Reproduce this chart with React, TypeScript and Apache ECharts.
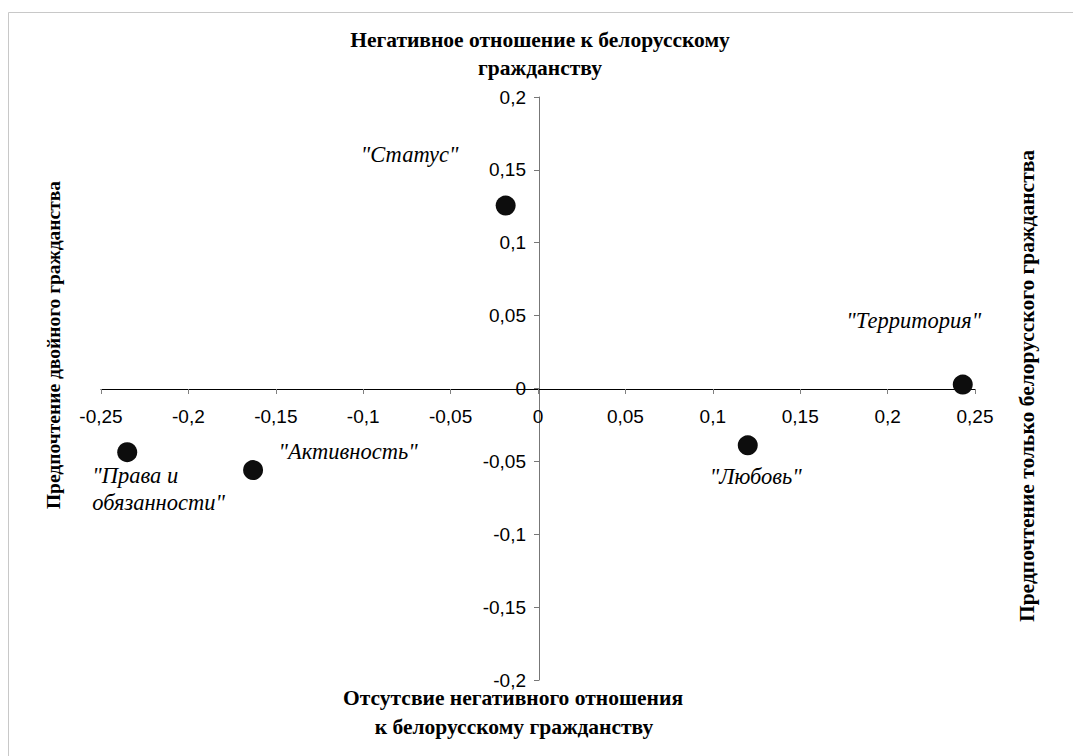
import React, { useEffect, useRef } from "react";
import * as echarts from "echarts";

const pointNames = ['"Статус"', '"Территория"', '"Любовь"', '"Активность"', '"Права и\nобязанности"'];
const xValues = [-0.0185, 0.243, 0.12, -0.163, -0.235];
const yValues = [0.1255, 0.0027, -0.039, -0.056, -0.0437];

const topTitle = ["Негативное отношение к белорусскому", "гражданству"];
const bottomTitle = ["Отсутсвие негативного отношения", "к белорусскому гражданству"];
const leftTitle = "Предпочтение двойного гражданства";
const rightTitle = "Предпочтение только белорусского гражданства";

// label placement (style only)
const labelOffsets: [number, number][] = [
  [-96, -51],
  [-49, -64],
  [8, 31],
  [95, -19],
  [-35, 37],
];
const labelAligns = ["center", "center", "center", "center", "left"];

const fmt = (v: number) => String(Math.round(v * 100) / 100).replace(".", ",");

const SERIF = "'Liberation Serif', 'DejaVu Serif', serif";
const SANS = "'Liberation Sans', Arial, sans-serif";

export default function App() {
  const ref = useRef<HTMLDivElement>(null);
  useEffect(() => {
    if (!ref.current) return;
    const chart = echarts.init(ref.current, undefined, { renderer: "svg" });
    const titleFont = `bold 21.5px ${SERIF}`;
    const data = xValues.map((x, i) => ({
      name: pointNames[i],
      value: [x, yValues[i]],
      label: {
        show: true,
        formatter: pointNames[i],
        position: "inside",
        offset: labelOffsets[i],
        align: labelAligns[i],
        verticalAlign: "middle",
        color: "#000",
        fontFamily: SERIF,
        fontStyle: "italic",
        fontSize: 22.5,
        lineHeight: 27,
      },
    }));
    chart.setOption({
      animation: false,
      backgroundColor: "#fff",
      grid: { left: 101, right: 98, top: 97, bottom: 76 },
      xAxis: {
        type: "value",
        min: -0.25,
        max: 0.25,
        interval: 0.05,
        offset: -291,
        splitLine: { show: false },
        axisLine: { onZero: false, lineStyle: { color: "#000", width: 1 } },
        axisTick: { show: true, length: 5, lineStyle: { color: "#808080" } },
        axisLabel: {
          formatter: fmt,
          color: "#000",
          fontFamily: SANS,
          fontSize: 19,
          margin: 18,
        },
      },
      yAxis: {
        type: "value",
        min: -0.2,
        max: 0.2,
        interval: 0.05,
        offset: -438,
        splitLine: { show: false },
        axisLine: { onZero: false, lineStyle: { color: "#777", width: 1 } },
        axisTick: { show: true, length: 5, lineStyle: { color: "#777" } },
        axisLabel: {
          formatter: fmt,
          color: "#000",
          fontFamily: SANS,
          fontSize: 19,
          margin: 13,
        },
      },
      series: [
        {
          type: "scatter",
          symbol: "circle",
          symbolSize: 20,
          itemStyle: { color: "#0d0d0d", opacity: 1 },
          data,
        },
      ],
      graphic: [
        {
          type: "rect",
          shape: { x: 8.5, y: 12.5, width: 1100, height: 800 },
          style: { fill: "none", stroke: "#c8c8c8", lineWidth: 1 },
          silent: true,
        },
        { type: "text", style: { text: topTitle[0], x: 540, y: 40, textAlign: "center", textVerticalAlign: "middle", font: titleFont, fill: "#000" } },
        { type: "text", style: { text: topTitle[1], x: 540, y: 68, textAlign: "center", textVerticalAlign: "middle", font: titleFont, fill: "#000" } },
        { type: "text", style: { text: bottomTitle[0], x: 513, y: 698, textAlign: "center", textVerticalAlign: "middle", font: titleFont, fill: "#000" } },
        { type: "text", style: { text: bottomTitle[1], x: 514, y: 727, textAlign: "center", textVerticalAlign: "middle", font: titleFont, fill: "#000" } },
        { type: "text", x: 53, y: 345, rotation: Math.PI / 2, style: { text: leftTitle, x: 0, y: 0, textAlign: "center", textVerticalAlign: "middle", font: `bold 19.5px ${SERIF}`, fill: "#000" } },
        { type: "text", x: 1027, y: 386, rotation: Math.PI / 2, style: { text: rightTitle, x: 0, y: 0, textAlign: "center", textVerticalAlign: "middle", font: titleFont, fill: "#000" } },
      ],
    });
    return () => chart.dispose();
  }, []);
  return <div ref={ref} style={{ position: "fixed", left: 0, top: 0, width: 1073, height: 756 }} />;
}
